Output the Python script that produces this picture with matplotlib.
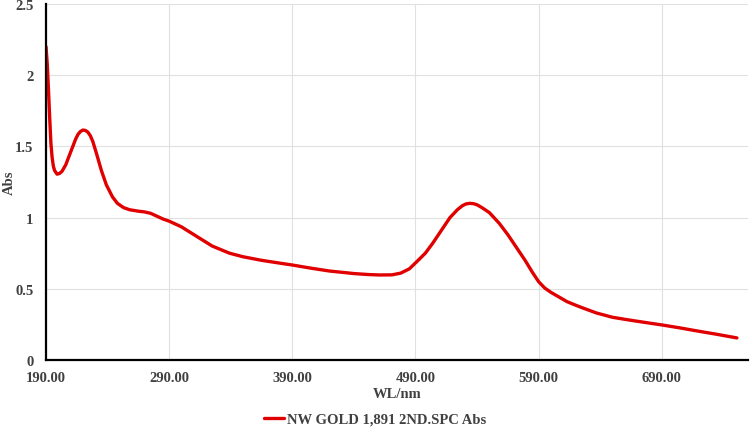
import matplotlib
matplotlib.use("Agg")
import matplotlib.pyplot as plt

wavelength = [190, 191, 192, 193, 194, 195, 196, 197, 199, 201, 203, 206, 210, 214, 216,
              218, 220, 222, 224, 226, 228, 231, 235, 239, 244, 248, 253, 258, 265, 270,
              275, 280, 285, 290, 300, 312, 325, 339, 350, 365, 380, 390, 405, 420, 429,
              440, 452, 461, 471, 478, 485, 491, 498, 504, 511, 518, 524, 528, 531, 534,
              537, 540, 544, 550, 558, 565, 572, 579, 585, 590, 595, 600, 606, 613, 620, 626,
              637, 650, 664, 677, 691, 705, 718, 735, 751]
absorbance = [2.20, 2.08, 1.90, 1.70, 1.52, 1.42, 1.36, 1.33, 1.305, 1.31, 1.325, 1.37, 1.46, 1.55, 1.585,
              1.605, 1.615, 1.612, 1.60, 1.575, 1.535, 1.45, 1.33, 1.23, 1.145, 1.10, 1.07, 1.055, 1.045, 1.04,
              1.03, 1.01, 0.99, 0.975, 0.935, 0.87, 0.80, 0.75, 0.725, 0.70, 0.68, 0.667, 0.645, 0.625, 0.617,
              0.607, 0.600, 0.597, 0.598, 0.61, 0.64, 0.69, 0.75, 0.82, 0.91, 1.00, 1.055, 1.083, 1.096, 1.10,
              1.098, 1.09, 1.07, 1.035, 0.96, 0.88, 0.79, 0.70, 0.615, 0.55, 0.505, 0.475, 0.445, 0.41, 0.385, 0.365,
              0.33, 0.30, 0.28, 0.263, 0.245, 0.225, 0.205, 0.18, 0.155]

xticks = [190, 290, 390, 490, 590, 690]
xtick_labels = ["190.00", "290.00", "390.00", "490.00", "590.00", "690.00"]
yticks = [0, 0.5, 1, 1.5, 2, 2.5]
ytick_labels = ["0", "0.5", "1", "1.5", "2", "2.5"]
series_label = "NW GOLD 1,891 2ND.SPC Abs"

plt.rcParams['font.family'] = ['Liberation Serif', 'DejaVu Serif']
fig = plt.figure(figsize=(7.5, 4.31), dpi=100)
ax = fig.add_axes([46/750, 1-361/431, (748-46)/750, (361-5)/431])

line, = ax.plot(wavelength, absorbance, color='#E00000', linewidth=2.4,
                solid_joinstyle='round', solid_capstyle='round', label=series_label)

ax.set_xlim(190, 760)
ax.set_ylim(0, 2.5)
ax.set_xticks(xticks)
ax.set_xticklabels(xtick_labels)
ax.set_yticks(yticks)
ax.set_yticklabels(ytick_labels)
ax.grid(True, color='#E0E0E0', linewidth=0.8)
ax.set_axisbelow(True)
for s in ['top', 'right']:
    ax.spines[s].set_visible(False)
ax.spines['left'].set_color('black')
ax.spines['left'].set_linewidth(1.6)
ax.spines['bottom'].set_color('black')
ax.spines['bottom'].set_linewidth(1.6)
ax.tick_params(length=0, labelsize=10.5, labelcolor='#404040')
for lab in ax.get_xticklabels() + ax.get_yticklabels():
    lab.set_fontweight('bold')
ax.tick_params(axis='y', pad=9)
ax.tick_params(axis='x', pad=8)

ax.set_xlabel("WL/nm", fontsize=10.5, fontweight='bold', color='#404040', labelpad=2)
fig.text(9/750, 1-183/431, "Abs", rotation=90, fontsize=10.5, fontweight='bold',
         color='#404040', ha='center', va='center')

fig.legend(handles=[line], loc='center', bbox_to_anchor=(0.5, 1-420/431), frameon=False,
           prop={'family': 'Liberation Serif', 'weight': 'bold', 'size': 10.5},
           labelcolor='#404040', handlelength=1.4, handletextpad=0.2)

fig.savefig("out.png", dpi=100)
